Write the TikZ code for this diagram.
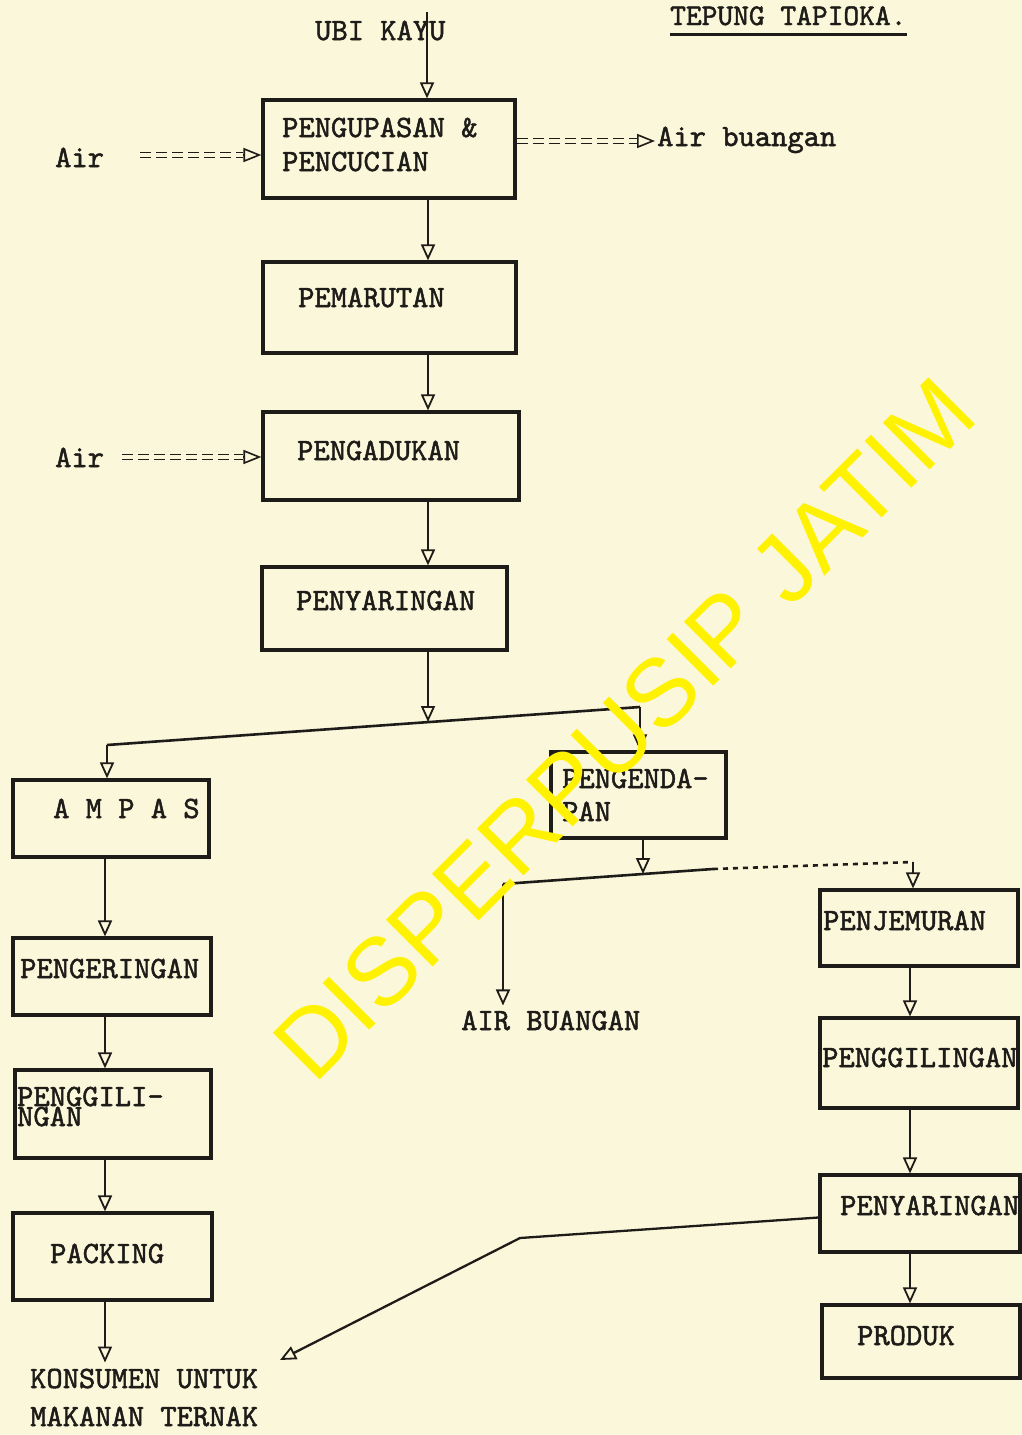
\documentclass[tikz,border=0pt]{standalone}
\usepackage{fontspec}
\newfontfamily\wmfont{Liberation Sans}
\newfontfamily\tw{lmmono10-regular.otf}[FakeBold=1.6]
\usetikzlibrary{arrows.meta}
\definecolor{paper}{RGB}{251,247,218}
\definecolor{ink}{RGB}{30,28,25}
\definecolor{wmyellow}{RGB}{255,242,0}
\begin{document}
\begin{tikzpicture}[x=1pt,y=-1pt,
  box/.style={draw=ink, line width=3.2pt, rectangle, inner sep=0pt},
  txt/.style={font=\tw\fontsize{31}{31}\selectfont, anchor=base west, inner sep=0pt, text=ink},
  arr/.style={draw=ink, line width=2.3pt, -{Triangle[open, length=16pt, width=14pt, line width=1.8pt]}},
  ln/.style={draw=ink, line width=2.6pt},
  eq/.style={draw=ink, line width=1.7pt, double=paper, double distance=3.5pt, dash pattern=on 11pt off 5pt},
  eqtip/.style={draw=ink, line width=1.6pt, -{Triangle[open, length=18pt, width=14pt]}}
]
\fill[paper] (0,0) rectangle (1022,1435);
\useasboundingbox (0,0) rectangle (1022,1435);

% boxes
\node[box, minimum width=252pt, minimum height=98pt] (b1) at (389,149) {};
\node[box, minimum width=253pt, minimum height=91pt] (b2) at (389.5,307.5) {};
\node[box, minimum width=256pt, minimum height=88pt] (b3) at (391,456) {};
\node[box, minimum width=245pt, minimum height=83pt] (b4) at (384.5,608.5) {};
\node[box, minimum width=196pt, minimum height=77pt] (ampas) at (111,818.5) {};
\node[box, minimum width=175pt, minimum height=86pt] (endap) at (638.5,795) {};
\node[box, minimum width=198pt, minimum height=77pt] (kering) at (112,976.5) {};
\node[box, minimum width=196pt, minimum height=88pt] (giling1) at (113,1114) {};
\node[box, minimum width=199pt, minimum height=87pt] (packing) at (112.5,1256.5) {};
\node[box, minimum width=198pt, minimum height=76pt] (jemur) at (919,928) {};
\node[box, minimum width=198pt, minimum height=90pt] (giling2) at (919,1063) {};
\node[box, minimum width=200pt, minimum height=77pt] (saring2) at (920,1213.5) {};
\node[box, minimum width=198pt, minimum height=73pt] (produk) at (921,1341.5) {};

% texts
\node[txt, font=\tw\fontsize{30}{30}\selectfont] (title) at (670,25) {TEPUNG TAPIOKA.};
\draw[ink, line width=3.2pt] ([yshift=-9pt]title.south west) -- ([yshift=-9pt]title.south east);
\node[txt] (ubi) at (315,40) {UBI KAYU};
\node[txt] (t1a) at (282,137) {PENGUPASAN \&};
\node[txt] (t1b) at (282,171) {PENCUCIAN};
\node[txt] (air1) at (55,167) {Air};
\node[txt] (airb) at (657,146) {Air buangan};
\node[txt] (t2) at (298,307) {PEMARUTAN};
\node[txt] (air2) at (55,467) {Air};
\node[txt] (t3) at (297,460) {PENGADUKAN};
\node[txt] (t4) at (296,610) {PENYARINGAN};
\node[txt] (t5) at (53,818) {A M P A S};
\node[txt] (t6a) at (562,788) {PENGENDA-};
\node[txt] (t6b) at (562,821) {PAN};
\node[txt] (t7) at (20,978) {PENGERINGAN};
\node[txt] (airbu) at (461,1030) {AIR BUANGAN};
\node[txt] (t8) at (823,930) {PENJEMURAN};
\node[txt] (t9a) at (17,1106) {PENGGILI-};
\node[txt] (t9b) at (17,1126) {NGAN};
\node[txt] (t10) at (822,1067) {PENGGILINGAN};
\node[txt] (t11) at (50,1263) {PACKING};
\node[txt] (t12) at (840,1215) {PENYARINGAN};
\node[txt] (t13) at (857,1345) {PRODUK};
\node[txt] (kons) at (30,1388) {KONSUMEN UNTUK};
\node[txt] (kons2) at (30,1426) {MAKANAN TERNAK};

% main chain
\coordinate (u0) at (427,12);
\coordinate (cx) at (428,0);
\draw[arr] (u0) -- (u0 |- b1.north);
\draw[arr] (b1.south -| cx) -- (b2.north -| cx);
\draw[arr] (b2.south -| cx) -- (b3.north -| cx);
\draw[arr] (b3.south -| cx) -- (b4.north -| cx);

% water in / out
\coordinate (e1) at (140,155);
\coordinate (e1end) at (e1 -| b1.west);
\draw[eq, shorten >=18pt] (e1) -- (e1end);
\draw[eqtip] ([xshift=-18pt]e1end) -- (e1end);
\coordinate (e2) at (122,457);
\coordinate (e2end) at (e2 -| b3.west);
\draw[eq, shorten >=18pt] (e2) -- (e2end);
\draw[eqtip] ([xshift=-18pt]e2end) -- (e2end);
\coordinate (e3s) at (517,141);
\coordinate (e3e) at (655,141);
\draw[eq, shorten >=18pt] (e3s) -- (e3e);
\draw[eqtip] ([xshift=-18pt]e3e) -- (e3e);

% split 1
\coordinate (jL) at (107,745);
\coordinate (jR) at (640,707);
\coordinate (jM) at (428,722);
\draw[arr] (b4.south -| jM) -- (jM);
\draw[ln] (jL) -- (jR);
\draw[arr] (jL) -- (jL |- ampas.north);
\draw[arr] (jR) -- (jR |- endap.north);

% split 2
\coordinate (kL) at (503,884);
\coordinate (kS) at (713,869);
\coordinate (kR) at (913,862);
\coordinate (kM) at (643,874);
\draw[arr] (endap.south -| kM) -- (kM);
\draw[ln] (kL) -- (kS);
\draw[ln, dash pattern=on 5pt off 5pt] (kS) -- (kR);
\draw[arr] (kR) -- (kR |- jemur.north);
\draw[arr] (kL) -- ([yshift=5pt]airbu.north -| kL);

% right column
\coordinate (rx) at (910,0);
\draw[arr] (jemur.south -| rx) -- (giling2.north -| rx);
\draw[arr] (giling2.south -| rx) -- (saring2.north -| rx);
\draw[arr] (saring2.south -| rx) -- (produk.north -| rx);
\coordinate (fk) at (520,1238);
\coordinate (fe) at (280,1360);
\draw[arr] ([yshift=-4pt]saring2.west) -- (fk) -- (fe);

% left column
\coordinate (lx) at (105,0);
\draw[arr] (ampas.south -| lx) -- (kering.north -| lx);
\draw[arr] (kering.south -| lx) -- (giling1.north -| lx);
\draw[arr] (giling1.south -| lx) -- (packing.north -| lx);
\draw[arr] (packing.south -| lx) -- ([yshift=6pt]kons.north -| lx);

% watermark
\node[font=\wmfont\fontsize{96}{96}\selectfont, text=wmyellow, rotate=45, anchor=base, inner sep=0pt] (wm) at (648,752) {DISPERPUSIP JATIM};
\end{tikzpicture}
\end{document}
